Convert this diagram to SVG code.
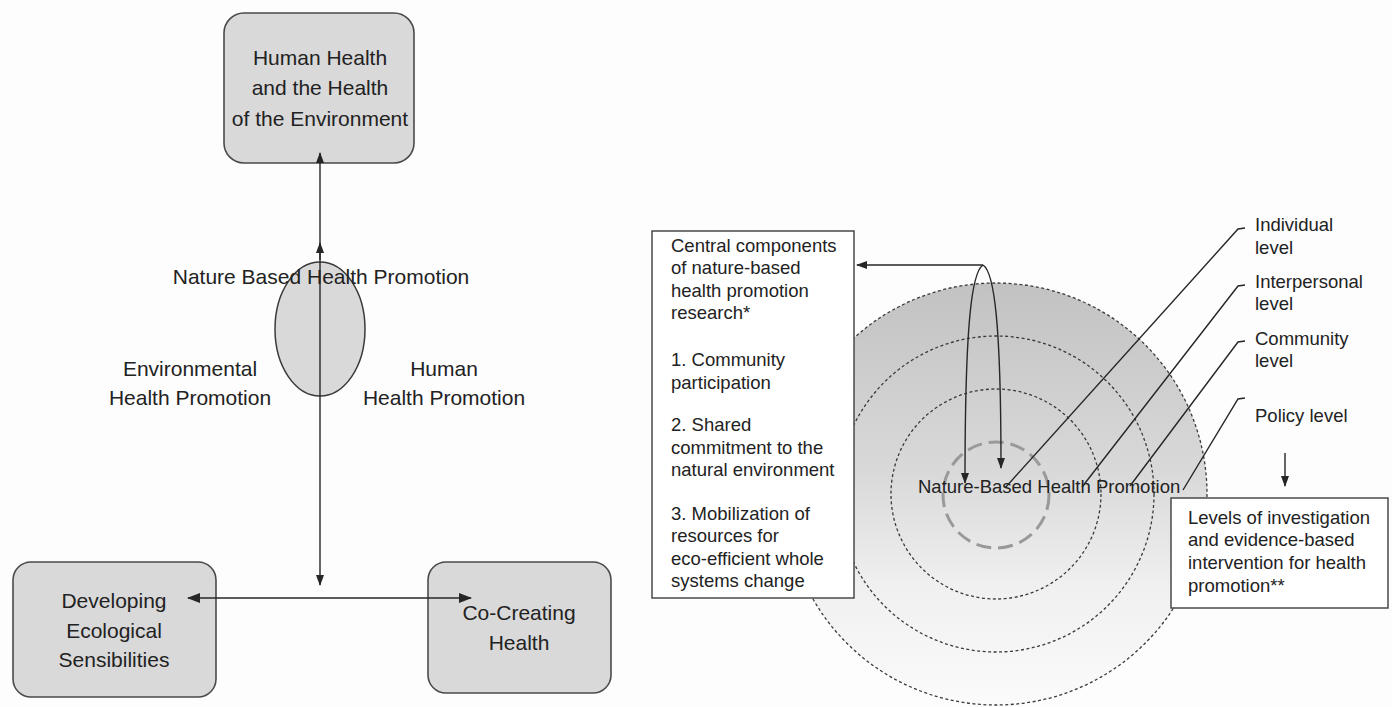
<svg xmlns="http://www.w3.org/2000/svg" width="1392" height="707" viewBox="0 0 1392 707">
  <style>
    .lbl { font-family: "Liberation Sans", Arial, sans-serif; fill: #222; }
    .big { font-size: 21px; text-anchor: middle; }
    .sm { font-size: 18.5px; }
    .node { fill: #d9d9d9; stroke: #4a4a4a; stroke-width: 1.6; }
    .plain { fill: #ffffff; stroke: #4a4a4a; stroke-width: 1.5; }
    .ln { fill: none; stroke: #262626; stroke-width: 1.4; }
    .ring { fill: none; stroke: #3a3a3a; stroke-width: 1.3; stroke-dasharray: 3 2.5; }
  </style>
  <defs>
    <marker id="arr" markerUnits="userSpaceOnUse" markerWidth="11" markerHeight="8" refX="10" refY="4" orient="auto-start-reverse">
      <path d="M0,0 L11,4 L0,8 z" fill="#262626"/>
    </marker>
    <marker id="arrBig" markerUnits="userSpaceOnUse" markerWidth="13" markerHeight="10" refX="12" refY="5" orient="auto-start-reverse">
      <path d="M0,0 L13,5 L0,10 z" fill="#262626"/>
    </marker>
    <linearGradient id="disc" gradientUnits="userSpaceOnUse" x1="0" y1="283" x2="0" y2="705">
      <stop offset="0" stop-color="#c2c2c2"/>
      <stop offset="0.45" stop-color="#d9d9d9"/>
      <stop offset="0.72" stop-color="#f0f0f0"/>
      <stop offset="1" stop-color="#fbfbfb"/>
    </linearGradient>
  </defs>

  <rect width="1392" height="707" fill="#fdfdfd"/>

  <!-- Left panel: model of nature based health promotion -->
  <g id="node-human-env">
    <rect class="node" x="224" y="13" width="190" height="150" rx="20"/>
    <text class="lbl big" x="320" y="65">Human Health</text>
    <text class="lbl big" x="320" y="95">and the Health</text>
    <text class="lbl big" x="320" y="126">of the Environment</text>
  </g>

  <g id="node-nbhp-ellipse">
    <ellipse cx="320" cy="329" rx="45" ry="67" fill="#d9d9d9" stroke="#3a3a3a" stroke-width="1.5"/>
  </g>

  <g id="node-developing">
    <rect class="node" x="13" y="562" width="203" height="135" rx="18"/>
    <text class="lbl big" x="114" y="608">Developing</text>
    <text class="lbl big" x="114" y="638">Ecological</text>
    <text class="lbl big" x="114" y="667">Sensibilities</text>
  </g>

  <g id="node-cocreating">
    <rect class="node" x="428" y="562" width="183" height="131" rx="18"/>
  </g>

  <g id="connectors-left">
    <line class="ln" x1="320" y1="153" x2="320" y2="585" marker-start="url(#arr)" marker-end="url(#arr)"/>
    <line class="ln" x1="320" y1="260" x2="320" y2="243" marker-end="url(#arr)"/>
    <line class="ln" x1="188" y1="598" x2="471" y2="598" stroke-width="2.4" marker-start="url(#arrBig)" marker-end="url(#arrBig)"/>
  </g>

  <g id="labels-left">
    <text class="lbl big" x="321" y="284">Nature Based Health Promotion</text>
    <text class="lbl big" x="190" y="376">Environmental</text>
    <text class="lbl big" x="190" y="405">Health Promotion</text>
    <text class="lbl big" x="444" y="376">Human</text>
    <text class="lbl big" x="444" y="405">Health Promotion</text>
    <text class="lbl big" x="519" y="620">Co-Creating</text>
    <text class="lbl big" x="519" y="650">Health</text>
  </g>

  <!-- Right panel: levels of nature-based health promotion -->
  <g id="node-levels-rings">
    <circle cx="996" cy="494" r="211" fill="url(#disc)"/>
    <circle class="ring" cx="996" cy="494" r="211"/>
    <circle class="ring" cx="996" cy="494" r="158"/>
    <circle class="ring" cx="996" cy="494" r="105"/>
    <circle cx="996" cy="495" r="53" fill="none" stroke="#999" stroke-width="3" stroke-dasharray="15 7"/>
  </g>

  <g id="node-central-components">
    <rect class="plain" x="652" y="231" width="202" height="367"/>
    <text class="lbl sm" x="671" y="252">Central components</text>
    <text class="lbl sm" x="671" y="274">of nature-based</text>
    <text class="lbl sm" x="671" y="296.5">health promotion</text>
    <text class="lbl sm" x="671" y="319">research*</text>
    <text class="lbl sm" x="671" y="366">1. Community</text>
    <text class="lbl sm" x="671" y="388.5">participation</text>
    <text class="lbl sm" x="671" y="431">2. Shared</text>
    <text class="lbl sm" x="671" y="453.5">commitment to the</text>
    <text class="lbl sm" x="671" y="475.5">natural environment</text>
    <text class="lbl sm" x="671" y="520">3. Mobilization of</text>
    <text class="lbl sm" x="671" y="542">resources for</text>
    <text class="lbl sm" x="671" y="564.5">eco-efficient whole</text>
    <text class="lbl sm" x="671" y="586.5">systems change</text>
  </g>

  <g id="node-investigation">
    <rect class="plain" x="1171" y="498" width="217" height="110"/>
    <text class="lbl sm" x="1188" y="523.5">Levels of investigation</text>
    <text class="lbl sm" x="1188" y="545.5">and evidence-based</text>
    <text class="lbl sm" x="1188" y="568.5">intervention for health</text>
    <text class="lbl sm" x="1188" y="591.5">promotion**</text>
  </g>

  <g id="node-level-labels">
    <text class="lbl sm" x="1255" y="231">Individual</text>
    <text class="lbl sm" x="1255" y="253.5">level</text>
    <text class="lbl sm" x="1255" y="287.5">Interpersonal</text>
    <text class="lbl sm" x="1255" y="310">level</text>
    <text class="lbl sm" x="1255" y="345">Community</text>
    <text class="lbl sm" x="1255" y="367">level</text>
    <text class="lbl sm" x="1255" y="422">Policy level</text>
  </g>

  <g id="connectors-right">
    <!-- feedback loop from the centre to the components box -->
    <line class="ln" x1="983" y1="265" x2="857" y2="265" stroke-width="1.8" marker-end="url(#arr)"/>
    <path class="ln" d="M983,265 C972,272 965,320 965,483" marker-end="url(#arr)"/>
    <path class="ln" d="M983,265 C994,272 1001,320 1001,468" marker-end="url(#arr)"/>
    <!-- leader lines from each level -->
    <path class="ln" stroke-width="1.1" d="M1245,228 L1238,229 L1005,488"/>
    <path class="ln" stroke-width="1.1" d="M1245,285 L1238,286 L1082,487"/>
    <path class="ln" stroke-width="1.1" d="M1245,341 L1238,342 L1130,486"/>
    <path class="ln" stroke-width="1.1" d="M1245,398 L1238,399 L1183,490"/>
    <line class="ln" x1="1285" y1="453" x2="1285" y2="486" marker-end="url(#arr)"/>
  </g>

  <g id="label-center">
    <text class="lbl sm" x="918" y="493">Nature-Based Health Promotion</text>
  </g>
</svg>
